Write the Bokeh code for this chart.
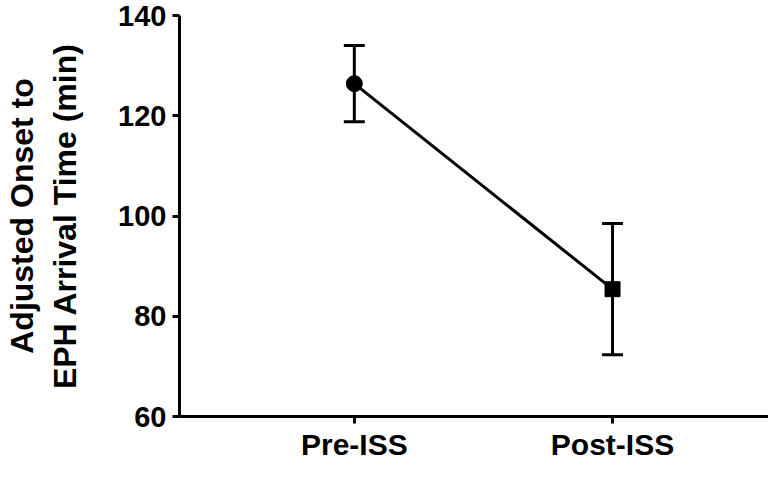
from bokeh.plotting import figure
from bokeh.models import ColumnDataSource, Whisker, TeeHead, FixedTicker, Range1d
from bokeh.embed import file_html
from bokeh.resources import INLINE

categories = ["Pre-ISS", "Post-ISS"]
means = [126.4, 85.4]
lower = [118.8, 72.3]
upper = [134.0, 98.5]
y_ticks = [60, 80, 100, 120, 140]

xs = list(range(1, len(categories) + 1))
src = ColumnDataSource(dict(x=xs, y=means, lower=lower, upper=upper))

FONT = "Liberation Sans"

p = figure(width=768, height=463, output_backend="svg", toolbar_location=None,
           x_range=Range1d(0.323, 2.604), y_range=Range1d(60, 140),
           min_border_left=175, min_border_top=15, min_border_right=0,
           min_border_bottom=0)
p.outline_line_color = None
p.xgrid.visible = False
p.ygrid.visible = False
p.background_fill_color = "white"
p.border_fill_color = "white"

p.line("x", "y", source=src, line_color="black", line_width=3)
w = Whisker(source=src, base="x", lower="lower", upper="upper",
            line_color="black", line_width=3,
            upper_head=TeeHead(size=21, line_width=3, line_color="black"),
            lower_head=TeeHead(size=21, line_width=3, line_color="black"))
p.add_layout(w)
p.scatter(x=[xs[0]], y=[means[0]], marker="circle", size=16, color="black")
p.scatter(x=[xs[1]], y=[means[1]], marker="square", size=15, color="black")

for ax in (p.xaxis[0], p.yaxis[0]):
    ax.axis_line_width = 3
    ax.axis_line_color = "black"
    ax.major_tick_line_width = 3
    ax.major_tick_line_color = "black"
    ax.major_tick_in = 0
    ax.major_tick_out = 7
    ax.minor_tick_line_color = None
    ax.major_label_text_font = FONT
    ax.major_label_text_font_style = "bold"
    ax.major_label_text_color = "black"

p.xaxis.ticker = FixedTicker(ticks=xs)
p.xaxis.major_label_overrides = {x: c for x, c in zip(xs, categories)}
p.xaxis.major_label_standoff = 4
p.xaxis.major_label_text_font_size = "30px"

p.yaxis.ticker = FixedTicker(ticks=y_ticks)
p.yaxis.major_label_standoff = 6
p.yaxis.major_label_text_font_size = "29px"
p.yaxis.axis_label = "Adjusted Onset to\nEPH Arrival Time (min)"
p.yaxis.axis_label_text_font = FONT
p.yaxis.axis_label_text_font_style = "bold"
p.yaxis.axis_label_text_font_size = "32px"
p.yaxis.axis_label_text_color = "black"
p.yaxis.axis_label_standoff = 32

open("out.html", "w").write(file_html(p, INLINE))
